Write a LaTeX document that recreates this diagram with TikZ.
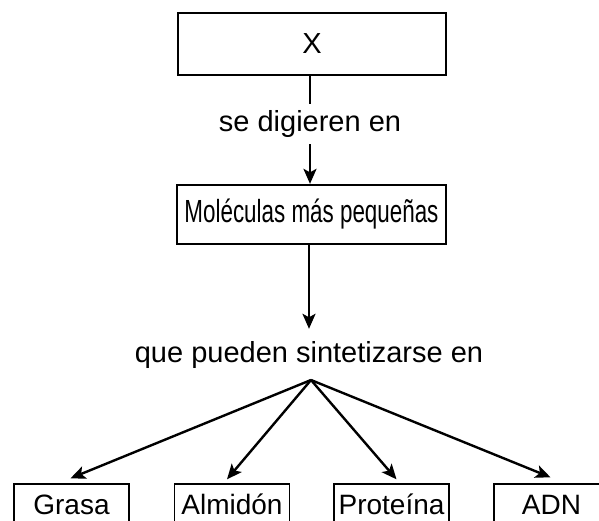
\documentclass[tikz,border=0pt]{standalone}
\usepackage{fontspec}
\setmainfont{Liberation Sans}
\usepackage{graphicx}
\usetikzlibrary{arrows.meta}
\begin{document}
\begin{tikzpicture}[x=1pt,y=1pt,
  topbox/.style={draw=black, line width=2.3pt, inner sep=0pt},
  botbox/.style={draw=black, line width=1.4pt, minimum width=115pt, inner xsep=0pt,
     inner ysep=10pt, text height=20pt, text depth=6pt, font=\fontsize{28}{30}\selectfont},
  lbl/.style={inner xsep=0pt, text height=21pt, text depth=7pt, font=\fontsize{29}{31}\selectfont},
  conn/.style={line width=2.4pt},
  arr/.style={line width=2.4pt, -{Stealth[length=15pt,width=13pt,inset=3.5pt]}}]
\useasboundingbox (0,0) rectangle (599,-520);
\clip (0,0) rectangle (599,-520);
% top box
\node[topbox, minimum width=268pt, minimum height=62pt, font=\fontsize{29}{31}\selectfont] (x) at (312,-44) {X};
\node[lbl, inner ysep=6pt] (t1) at (310,-124) {se digieren en};
\node[topbox, minimum width=269pt, minimum height=59pt, text height=22pt, text depth=6pt,
  font=\fontsize{32}{34}\selectfont] (mol) at (311.5,-214.5) {\scalebox{0.70}[1]{Moléculas más pequeñas}};
\node[lbl, inner ysep=12pt] (t2) at (309,-355) {que pueden sintetizarse en};
\coordinate (apex) at (311,-380);
% bottom boxes
\node[botbox] (gr) at (71.5,-507) {Grasa};
\node[botbox] (al) at (232,-507) {Almidón};
\node[botbox] (pr) at (391.5,-507) {Proteína};
\node[botbox] (ad) at (551.5,-507) {ADN};
% connectors
\draw[conn] (x.south -| t1.north) -- (t1.north);
\draw[arr] (t1.south) -- (t1.south |- mol.north);
\draw[arr] (mol.south -| t2.north) -- (t2.north);
\draw[arr] (apex) -- ([xshift=-1pt,yshift=5pt]gr.north);
\draw[arr] (apex) -- ([xshift=-5pt,yshift=4pt]al.north);
\draw[arr] (apex) -- ([xshift=5pt,yshift=4pt]pr.north);
\draw[arr] (apex) -- ([xshift=-1pt,yshift=6pt]ad.north);
\end{tikzpicture}
\end{document}
